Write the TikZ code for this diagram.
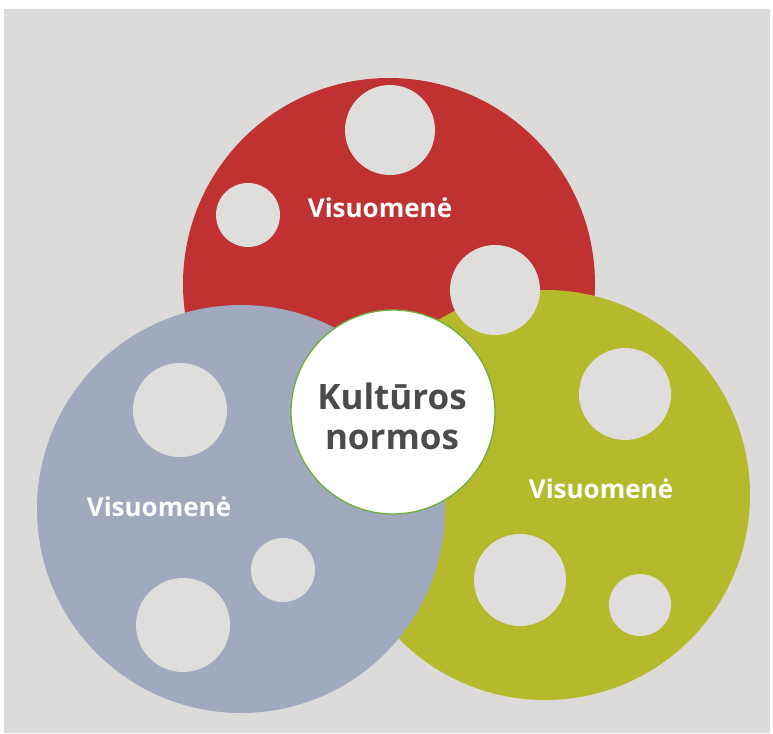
\documentclass[tikz,border=0pt]{standalone}
\usepackage{fontspec}
\setmainfont{Open Sans}
\definecolor{bgc}{HTML}{DDDBDA}
\definecolor{holec}{HTML}{E0DEDD}
\definecolor{redc}{HTML}{BF3231}
\definecolor{bluec}{HTML}{A0A9BD}
\definecolor{greenc}{HTML}{B4BA2C}
\definecolor{rimc}{HTML}{6FAE3C}
\definecolor{txtc}{HTML}{4B4B4B}
\begin{document}
\begin{tikzpicture}[x=1pt,y=-1pt,
  hole/.style={circle,fill=holec,inner sep=0pt,minimum size=#1},
  lbl/.style={text=white,font=\bfseries\fontsize{26}{30}\selectfont,anchor=base,inner sep=0pt},
  ctr/.style={text=txtc,font=\bfseries\fontsize{35}{40}\selectfont,anchor=base,inner sep=0pt}]
\useasboundingbox (0,0) rectangle (773,733);
\fill[white] (0,0) rectangle (773,733);
\fill[bgc] (4,9) rectangle (770,733);
% red
\fill[redc] (389,284) circle[radius=206];
\node[hole=90pt] (r1) at (390,130) {};
\node[hole=64pt] (r2) at (248,215) {};
% green
\fill[greenc] (545,495) circle[radius=205];
\node[hole=92pt] (g1) at (625,394) {};
\node[hole=92pt] (g2) at (520,580) {};
\node[hole=62pt] (g3) at (640,605) {};
\node[hole=90pt] (r3) at (495,290) {};
% blue
\fill[bluec] (241,509) circle[radius=204];
\node[hole=94pt] (b1) at (180,410) {};
\node[hole=64pt] (b2) at (283,570) {};
\node[hole=94pt] (b3) at (183,625) {};
% center
\node[circle,fill=white,draw=rimc,line width=1.3pt,minimum size=204pt,inner sep=0pt] (c) at (393,412) {};
\node[ctr] (k1) at (392,409) {Kultūros};
\node[ctr] (k2) at (392,449) {normos};
\node[lbl] (t1) at (380,217) {Visuomenė};
\node[lbl] (t2) at (159,516) {Visuomenė};
\node[lbl] (t3) at (601,498) {Visuomenė};
\end{tikzpicture}
\end{document}
